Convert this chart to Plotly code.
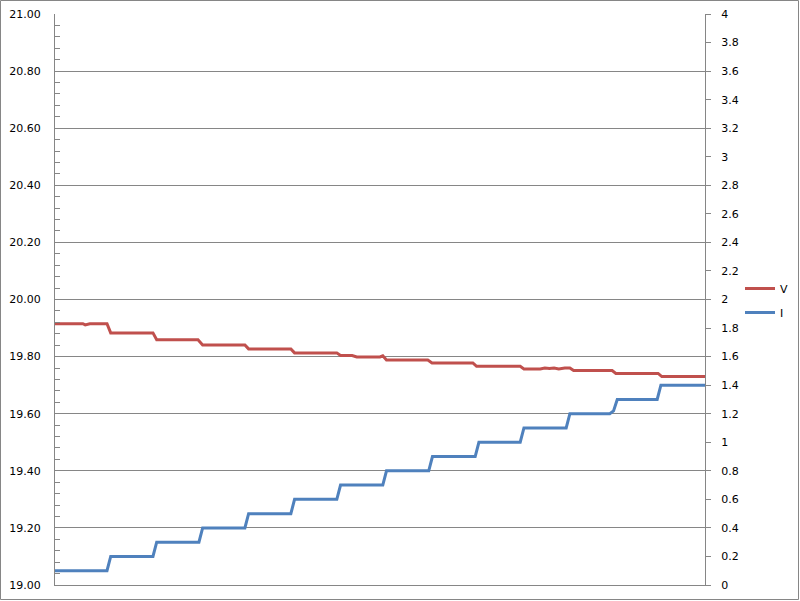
import plotly.graph_objects as go

# Time (sample index) of the corner points of each series
v_time = [0, 6.0, 6.5, 7.5, 11.2, 12.0, 21.1, 21.9, 30.8, 31.8, 40.9, 41.7, 50.8, 51.6,
          60.7, 61.5, 64.0, 65.0, 70.0, 70.6, 71.4, 80.3, 81.2, 90.0, 90.8, 100.2, 101.0,
          104.5, 105.5, 106.5, 107.5, 108.5, 109.8, 110.9, 111.7, 120.0, 120.8, 129.9, 130.7, 140]
v_values = [19.915, 19.915, 19.911, 19.915, 19.915, 19.883, 19.883, 19.859, 19.859, 19.841,
            19.841, 19.827, 19.827, 19.813, 19.813, 19.804, 19.804, 19.799, 19.799, 19.803,
            19.788, 19.788, 19.778, 19.778, 19.766, 19.766, 19.757, 19.757, 19.760, 19.758,
            19.760, 19.757, 19.760, 19.760, 19.751, 19.751, 19.741, 19.741, 19.730, 19.730]

i_time = [0, 11.2, 12.0, 21.1, 21.9, 31.0, 31.8, 40.9, 41.7, 50.8, 51.6, 60.7, 61.5, 70.6,
          71.4, 80.5, 81.3, 90.5, 91.3, 100.2, 101.0, 110.1, 110.9, 119.5, 120.3, 121.1,
          129.7, 130.5, 140]
i_values = [0.1, 0.1, 0.2, 0.2, 0.3, 0.3, 0.4, 0.4, 0.5, 0.5, 0.6, 0.6, 0.7, 0.7,
            0.8, 0.8, 0.9, 0.9, 1.0, 1.0, 1.1, 1.1, 1.2, 1.2, 1.22, 1.3,
            1.3, 1.4, 1.4]

series_names = ["V", "I"]
colors = ["#C0504D", "#4F81BD"]
grid = "#868686"
font = dict(family="DejaVu Sans", size=11, color="#000000")

fig = go.Figure()
fig.add_trace(go.Scatter(x=v_time, y=v_values, mode="lines", name=series_names[0],
                         line=dict(color=colors[0], width=3), legendgroup="a", yaxis="y"))
fig.add_trace(go.Scatter(x=i_time, y=i_values, mode="lines", name=series_names[1],
                         line=dict(color=colors[1], width=3), legendgroup="b", yaxis="y2"))

W, H = 800, 601
L, R, T, B = 55, 95, 14, 16
pw = W - L - R
ph = H - T - B

fig.update_layout(
    width=W, height=H,
    margin=dict(l=L, r=R, t=T, b=B, pad=0, autoexpand=False),
    paper_bgcolor="white", plot_bgcolor="white",
    font=font,
    showlegend=True,
    legend=dict(x=(740 - L) / pw, y=(H - B - 274) / ph, xanchor="left", yanchor="top",
                font=dict(family="DejaVu Sans", size=11, color="#000"),
                tracegroupgap=5, itemwidth=30, bgcolor="rgba(0,0,0,0)"),
    xaxis=dict(range=[0, 140], showticklabels=False, ticks="", showgrid=False,
               zeroline=False, showline=True, linecolor=grid, linewidth=1, automargin=False),
    yaxis=dict(range=[19, 21], tick0=19, dtick=0.2, tickformat=".2f", ticks="",
               showgrid=True, gridcolor=grid, gridwidth=1, zeroline=False,
               showline=True, linecolor=grid, linewidth=1, ticklabelstandoff=11,
               tickfont=font, automargin=False,
               minor=dict(dtick=0.04, ticks="inside", ticklen=5, tickcolor=grid, showgrid=False)),
    yaxis2=dict(range=[0, 4], tick0=0, dtick=0.2, overlaying="y", side="right",
                ticks="outside", ticklen=5, tickcolor=grid, showgrid=False, zeroline=False,
                showline=True, linecolor=grid, linewidth=1, ticklabelstandoff=8,
                tickfont=font, automargin=False),
    shapes=[dict(type="rect", xref="paper", yref="paper",
                 x0=-(L - 0.5) / pw, x1=(W - L - 1.5) / pw,
                 y0=-(B - 1.5) / ph, y1=1 + (T - 0.5) / ph,
                 line=dict(color=grid, width=1), fillcolor="rgba(0,0,0,0)", layer="below")],
)

fig.write_html("out.html", config={"displayModeBar": False},
               post_script="document.body.style.margin='0';document.body.style.overflow='hidden';")
